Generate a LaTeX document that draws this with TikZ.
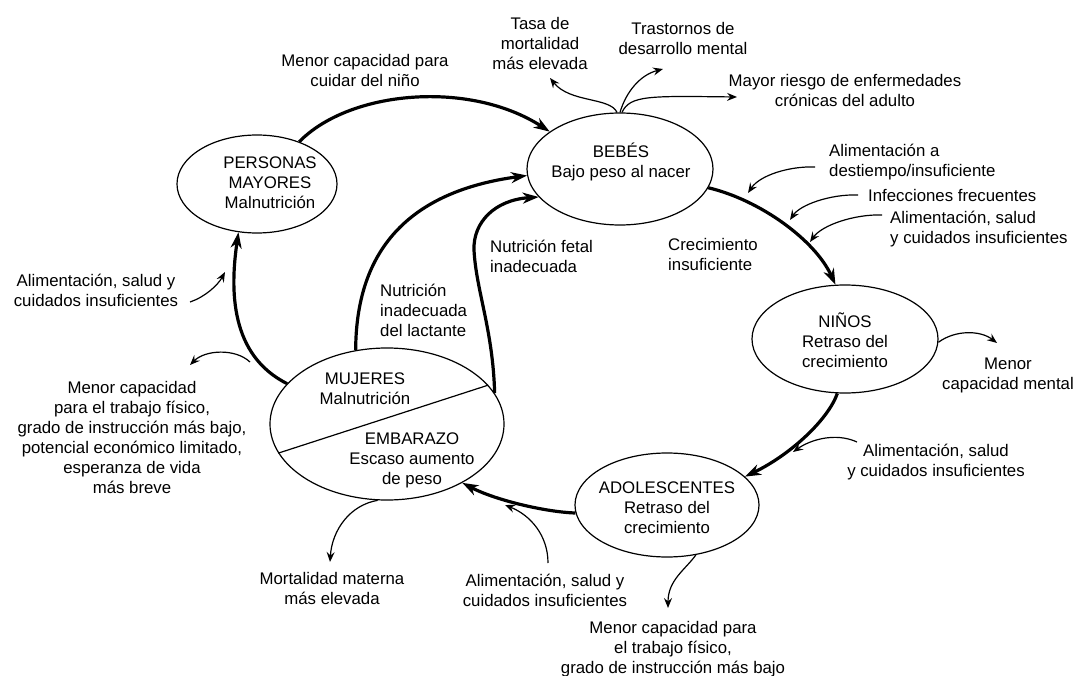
\documentclass[tikz,border=0pt]{standalone}
\usepackage{fontspec}
\setmainfont{Liberation Sans}
\usetikzlibrary{shapes.geometric,arrows.meta}
\begin{document}
\begin{tikzpicture}[x=1pt,y=-1pt,
  every node/.style={font=\fontsize{16.8}{20}\selectfont, inner sep=0pt},
  state/.style={ellipse, draw, line width=1.2pt, inner sep=0pt},
  lbl/.style={align=center},
  lbll/.style={align=left, anchor=west},
  mainarr/.style={line width=3.2pt, -{Stealth[length=16pt,width=11pt,inset=5pt]}},
  sidearr/.style={line width=1.2pt, -{Stealth[length=10pt,width=8pt,inset=3.5pt]}},
]
\useasboundingbox (0,0) rectangle (1076,676);

% ellipses
\node[state, minimum width=186pt, minimum height=112pt] (bebe) at (620,169) {};
\node[state, minimum width=160pt, minimum height=98pt] (pers) at (257,184) {};
\node[state, minimum width=186pt, minimum height=108pt] (nino) at (845,339) {};
\node[state, minimum width=184pt, minimum height=104pt] (adol) at (667,505) {};
\node[state, minimum width=234pt, minimum height=152pt] (muj) at (387,424) {};
\draw[line width=1.2pt] (muj.195) -- (muj.21);

% ellipse texts
\node[lbl] (tbebe) at (621,162) {BEBÉS\\Bajo peso al nacer};
\node[lbl] (tpers) at (270,183) {PERSONAS\\MAYORES\\Malnutrición};
\node[lbl] (tnino) at (845,340) {NIÑOS\\Retraso del\\crecimiento};
\node[lbl] (tadol) at (667,508) {ADOLESCENTES\\Retraso del\\crecimiento};
\node[lbl] (tmuj) at (365,389) {MUJERES\\Malnutrición};
\node[lbl] (temb) at (412,460) {EMBARAZO\\Escaso aumento\\de peso};

% labels
\node[lbl] (t1) at (365,70) {Menor capacidad para\\cuidar del niño};
\node[lbl] (t2) at (540,43) {Tasa de\\mortalidad\\más elevada};
\node[lbl] (t3) at (683,38) {Trastornos de\\desarrollo mental};
\node[lbl] (t4) at (845,90) {Mayor riesgo de enfermedades\\crónicas del adulto};
\node[lbll] (t5) at (829,162) {Alimentación a\\destiempo/insuficiente};
\node[lbll] (t6) at (868,195) {Infecciones frecuentes};
\node[lbll] (t7) at (890,229) {Alimentación, salud\\y cuidados insuficientes};
\node[lbll] (t8) at (668,254) {Crecimiento\\insuficiente};
\node[lbll] (t9) at (490,256) {Nutrición fetal\\inadecuada};
\node[lbll] (t10) at (380,310) {Nutrición\\inadecuada\\del lactante};
\node[lbl] (t11) at (1008,375) {Menor\\capacidad mental};
\node[lbl] (t12) at (936,462) {Alimentación, salud\\y cuidados insuficientes};
\node[lbl] (t13) at (673,649) {Menor capacidad para\\el trabajo físico,\\grado de instrucción más bajo};
\node[lbl] (t14) at (545,590) {Alimentación, salud y\\cuidados insuficientes};
\node[lbl] (t15) at (332,588) {Mortalidad materna\\más elevada};
\node[lbl] (t16) at (132,437) {Menor capacidad\\para el trabajo físico,\\grado de instrucción más bajo,\\potencial económico limitado,\\esperanza de vida\\más breve};
\node[lbl] (t17) at (96,290) {Alimentación, salud y\\cuidados insuficientes};

% main cycle arrows
\draw[mainarr] (pers.45) .. controls (350,90) and (470,80) .. (bebe.152);
\draw[mainarr] (bebe.-12) .. controls (760,200) and (815,240) .. (nino.100);
\draw[mainarr] (nino.-98) .. controls (828,420) and (790,455) .. (adol.20);
\draw[mainarr] (adol.185) .. controls (545,512) and (495,500) .. (muj.-38);
\draw[mainarr] (muj.158) .. controls (230,355) and (230,290) .. (pers.-111);
\draw[mainarr] (muj.113) .. controls (356,240) and (420,190) .. (bebe.184);
\draw[mainarr] (muj.16) .. controls (493,330) and (476,290) .. (474,250)
  .. controls (473,222) and (495,200) .. (bebe.199);

% coordinates for side arrows
\coordinate (c2) at (550,78);
\coordinate (c3) at (663,69);
\coordinate (c4) at (737,97);
\coordinate (s5) at (815,167);
\coordinate (c5) at (748,193);
\coordinate (s6) at (858,195);
\coordinate (c6) at (790,220);
\coordinate (s7) at (882,215);
\coordinate (c7) at (810,242);
\coordinate (c11) at (997,343);
\coordinate (s12) at (857,442);
\coordinate (c12) at (793,452);
\coordinate (c13) at (668,608);
\coordinate (s14) at (548,563);
\coordinate (c14) at (505,505);
\coordinate (c15) at (330,562);
\coordinate (s16) at (250,362);
\coordinate (c16) at (190,365);
\coordinate (s17) at (190,302);
\coordinate (c17) at (225,272);

% side arrows
\draw[sidearr] (bebe.93) .. controls (610,97) and (570,103) .. (c2);
\draw[sidearr] (bebe.90) .. controls (626,92) and (640,75) .. (c3);
\draw[sidearr] (bebe.88) .. controls (630,95) and (650,96) .. (c4);
\draw[sidearr] (s5) .. controls (790,166) and (760,175) .. (c5);
\draw[sidearr] (s6) .. controls (830,194) and (800,205) .. (c6);
\draw[sidearr] (s7) .. controls (855,214) and (822,225) .. (c7);
\draw[sidearr] (nino.-2) .. controls (955,330) and (980,330) .. (c11);
\draw[sidearr] (s12) .. controls (835,432) and (810,440) .. (c12);
\draw[sidearr] (adol.-60) .. controls (685,570) and (668,580) .. (c13);
\draw[sidearr] (s14) .. controls (548,535) and (530,515) .. (c14);
\draw[sidearr] (muj.-97) .. controls (350,505) and (332,530) .. (c15);
\draw[sidearr] (s16) .. controls (235,348) and (205,350) .. (c16);
\draw[sidearr] (s17) .. controls (205,297) and (218,285) .. (c17);
\end{tikzpicture}
\end{document}
